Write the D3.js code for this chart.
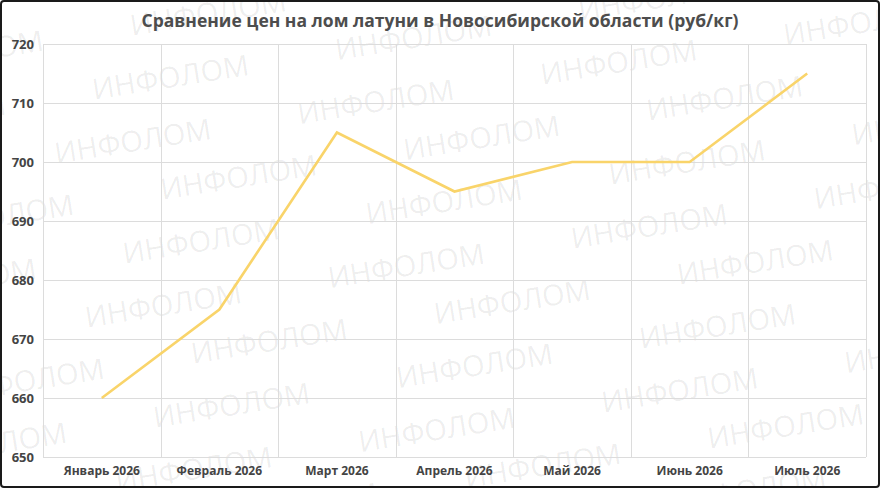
<!DOCTYPE html>
<html>
<head>
<meta charset="utf-8">
<script src="https://cdn.jsdelivr.net/npm/d3@7"></script>
<style>
  html, body { margin: 0; padding: 0; background: #fff; }
  svg { display: block; }
</style>
</head>
<body>
<svg id="chart" width="880" height="488"></svg>
<script>
const title = "Сравнение цен на лом латуни в Новосибирской области (руб/кг)";
const months = ["Январь 2026", "Февраль 2026", "Март 2026", "Апрель 2026", "Май 2026", "Июнь 2026", "Июль 2026"];
const prices = [660, 675, 705, 695, 700, 700, 715];
const yTicks = [650, 660, 670, 680, 690, 700, 710, 720];
const watermarkText = "ИНФОЛОМ";

const W = 880, H = 488;
const margin = { left: 43, right: 14, top: 44, bottom: 31 };
const svg = d3.select("#chart");
const font = "'Open Sans', 'DejaVu Sans', sans-serif";

svg.append("rect").attr("x", 0).attr("y", 0).attr("width", W).attr("height", H).attr("fill", "#fff");

// watermark tiling (decoration)
const wm = svg.append("g");
const base = [208, 12], colV = [243, -39.5], perV = [30.5, 164], rowV = [-37.7, 64];
for (let m = -2; m <= 4; m++) {
  for (let n = -2; n <= 3; n++) {
    for (let j = 0; j < 3; j++) {
      const cx = base[0] + m * colV[0] + n * perV[0] + j * rowV[0];
      const cy = base[1] + m * colV[1] + n * perV[1] + j * rowV[1];
      if (cx < -120 || cx > 1000 || cy < -60 || cy > 560) continue;
      wm.append("text")
        .attr("transform", `translate(${cx},${cy}) rotate(-9)`)
        .attr("text-anchor", "middle")
        .attr("dominant-baseline", "central")
        .attr("font-family", font)
        .attr("font-size", 29)
        .attr("fill", "#000")
        .attr("fill-opacity", 0.075)
        .text(watermarkText);
    }
  }
}

const x = d3.scaleBand().domain(months).range([margin.left, W - margin.right]).paddingInner(0).paddingOuter(0);
const y = d3.scaleLinear().domain([650, 720]).range([H - margin.bottom, margin.top]);

// grid
const grid = svg.append("g").attr("stroke", "#dcdcdc").attr("stroke-width", 1).attr("shape-rendering", "crispEdges");
grid.selectAll("line.h").data(yTicks).join("line")
  .attr("x1", margin.left).attr("x2", W - margin.right)
  .attr("y1", d => Math.round(y(d)) + 0.5).attr("y2", d => Math.round(y(d)) + 0.5);
const vEdges = months.map(m => x(m)).concat([x(months[months.length - 1]) + x.bandwidth()]);
grid.selectAll("line.v").data(vEdges).join("line")
  .attr("x1", d => Math.round(d) + 0.5).attr("x2", d => Math.round(d) + 0.5)
  .attr("y1", y(720)).attr("y2", y(650));

// axes
const yAxis = svg.append("g").attr("transform", `translate(${margin.left},0)`)
  .call(d3.axisLeft(y).tickValues(yTicks).tickSize(0).tickPadding(9).tickFormat(d3.format("d")));
yAxis.select(".domain").remove();
yAxis.selectAll("text").attr("font-family", font).attr("font-weight", 700).attr("font-size", 13).attr("fill", "#444");

const xAxis = svg.append("g").attr("transform", `translate(0,${y(650)})`)
  .call(d3.axisBottom(x).tickSize(0).tickPadding(9));
xAxis.select(".domain").remove();
xAxis.selectAll("text").attr("font-family", font).attr("font-weight", 700).attr("font-size", 12).attr("fill", "#444");

// line
const line = d3.line()
  .x((d, i) => x(months[i]) + x.bandwidth() / 2)
  .y(d => y(d));
svg.append("path").datum(prices)
  .attr("d", line)
  .attr("fill", "none")
  .attr("stroke", "#f9d46a")
  .attr("stroke-width", 2.6)
  .attr("stroke-linejoin", "miter");

// title
svg.append("text")
  .attr("x", 440).attr("y", 27)
  .attr("text-anchor", "middle")
  .attr("font-family", font)
  .attr("font-weight", 700)
  .attr("font-size", 17.5)
  .attr("fill", "#4d4d4d")
  .text(title);

// border
svg.append("rect").attr("x", 1).attr("y", 1).attr("width", W - 2).attr("height", H - 2)
  .attr("rx", 3).attr("fill", "none").attr("stroke", "#1a1a1a").attr("stroke-width", 2);
</script>
</body>
</html>
